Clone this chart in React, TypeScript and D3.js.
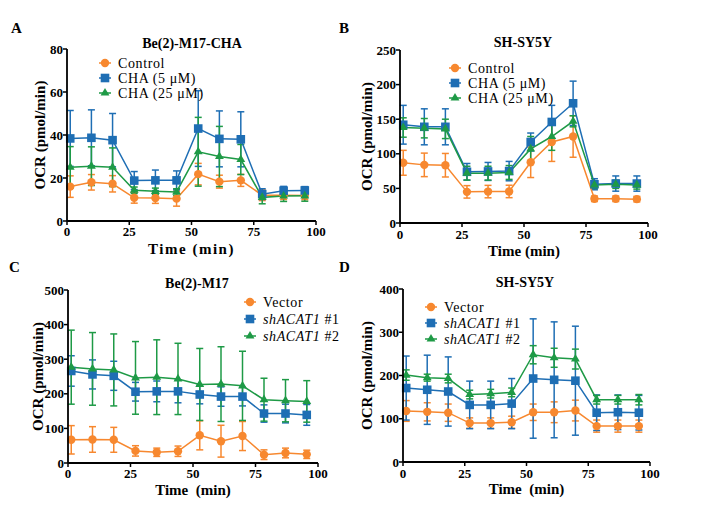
import React from "react";
import * as d3 from "d3";

const times = [1.3, 9.8, 18.3, 27, 35.5, 44, 52.7, 61.2, 69.8, 78.4, 87, 95.5];
const xTicks = [0, 25, 50, 75, 100];

// Panel A: Be(2)-M17-CHA
const aControl = [16, 18, 17.3, 10.8, 10.7, 10.4, 21.8, 18.3, 18.9, 12, 12, 11.9];
const aControlErr = [5, 3.6, 3.8, 2.5, 2.5, 3.5, 5, 3, 2.8, 2.5, 2, 2];
const aCha5 = [38.4, 38.7, 37.6, 18.8, 18.9, 18.9, 43, 38.2, 38, 12.5, 14.1, 14.2];
const aCha5Err = [13, 13, 12.4, 4.2, 4.8, 4.4, 17.6, 13, 12.8, 2.5, 2, 1.8];
const aCha25 = [25, 25.5, 25, 14.3, 13.8, 13.5, 32.2, 30, 28.6, 11, 11.6, 11.7];
const aCha25Err = [9.6, 9, 9, 1.5, 1.5, 1.5, 16, 14, 7, 3, 2.5, 2.5];

// Panel B: SH-SY5Y
const bControl = [87, 84, 83.5, 45, 45.4, 45.6, 87.7, 117, 125, 35, 35, 34.5];
const bControlErr = [18, 17, 17, 9, 9, 9, 22, 28, 30, 4, 4, 4];
const bCha5 = [142, 139, 139, 74, 74.5, 75, 117, 146, 173, 56, 57, 57];
const bCha5Err = [28, 26, 26, 12, 13, 14, 13, 24, 32, 8, 11, 11];
const bCha25 = [138, 137, 136, 72, 72, 73, 107, 125, 147, 55, 56, 55];
const bCha25Err = [14, 14, 14, 10, 10, 10, 18, 20, 8, 5, 6, 6];

// Panel C: Be(2)-M17
const cVector = [67, 68, 67, 35, 31, 34, 80, 63, 78, 24, 29, 25];
const cVectorErr = [41, 37, 36, 15, 12, 15, 42, 46, 42, 14, 14, 12];
const cSh1 = [266, 256, 252, 206, 207, 207, 198, 192, 192, 143, 143, 139];
const cSh1Err = [44, 42, 42, 27, 30, 33, 27, 28, 27, 25, 27, 30];
const cSh2 = [277, 272, 269, 246, 248, 243, 227, 228, 223, 183, 180, 178];
const cSh2Err = [107, 105, 104, 105, 108, 103, 104, 108, 100, 62, 61, 60];

// Panel D: SH-SY5Y
const dVector = [118, 116, 114, 90, 90, 92, 115, 115, 119, 83, 83, 83];
const dVectorErr = [24, 21, 20, 12, 12, 14, 19, 24, 24, 14, 14, 14];
const dSh1 = [171, 167, 163, 132, 132, 135, 193, 190, 188, 114, 115, 114];
const dSh1Err = [74, 80, 80, 55, 55, 58, 138, 134, 126, 41, 40, 40];
const dSh2 = [201, 195, 193, 156, 158, 161, 248, 241, 238, 144, 144, 144];
const dSh2Err = [12, 8, 10, 10, 10, 10, 21, 22, 23, 10, 10, 12];

const ORANGE = "#F7882F";
const BLUE = "#1E6EB4";
const GREEN = "#1E9A46";

type Series = { name: string; italic?: string; rest?: string; vals: number[]; err: number[]; color: string; shape: "circle" | "square" | "triangle" };

type PanelCfg = {
  letter: string; lx: number; ly: number;
  title: string; tx: number; ty: number;
  x0: number; x1: number; yTop: number; yBot: number;
  yMax: number; yTicks: number[];
  ylabX: number; xtickY: number; xlabY: number; xlab: string; xlabSpacing: number;
  legX: number; legY: number[];
  series: Series[];
};

const FONT = "'Liberation Serif', 'Times New Roman', serif";

function Marker({ shape, x, y, color }: { shape: string; x: number; y: number; color: string }) {
  if (shape === "circle") return <circle cx={x} cy={y} r={4.2} fill={color} />;
  if (shape === "square") return <rect x={x - 4.3} y={y - 4.3} width={8.6} height={8.6} fill={color} />;
  const s = d3.symbol().type(d3.symbolTriangle).size(34)();
  return <path d={s || ""} transform={`translate(${x},${y})`} fill={color} />;
}

function Panel({ c }: { c: PanelCfg }) {
  const xs = d3.scaleLinear().domain([0, 100]).range([c.x0, c.x1]);
  const ys = d3.scaleLinear().domain([0, c.yMax]).range([c.yBot, c.yTop]);
  const line = d3.line<number>().x((_, i) => xs(times[i])).y((v) => ys(v));
  const cap = 3.5;
  return (
    <g>
      <text x={c.lx} y={c.ly} fontFamily={FONT} fontWeight="bold" fontSize={15}>{c.letter}</text>
      <text x={c.tx} y={c.ty} fontFamily={FONT} fontWeight="bold" fontSize={14} textAnchor="middle">{c.title}</text>
      {c.series.map((s, si) => (
        <g key={"e" + si} stroke={s.color} strokeWidth={1.5} fill="none">
          {s.vals.map((v, i) => {
            const x = xs(times[i]);
            const yt = ys(v + s.err[i]);
            const yb = ys(Math.max(0, v - s.err[i]));
            return (
              <g key={i}>
                <line x1={x} x2={x} y1={yt} y2={yb} />
                <line x1={x - cap} x2={x + cap} y1={yt} y2={yt} />
                <line x1={x - cap} x2={x + cap} y1={yb} y2={yb} />
              </g>
            );
          })}
        </g>
      ))}
      {c.series.map((s, si) => (
        <path key={"l" + si} d={line(s.vals) || ""} stroke={s.color} strokeWidth={1.5} fill="none" />
      ))}
      {c.series.map((s, si) => (
        <g key={"m" + si}>
          {s.vals.map((v, i) => (
            <Marker key={i} shape={s.shape} x={xs(times[i])} y={ys(v)} color={s.color} />
          ))}
        </g>
      ))}
      <line x1={c.x0} x2={c.x0} y1={c.yTop} y2={c.yBot} stroke="#000" strokeWidth={1.8} />
      <line x1={c.x0} x2={c.x1} y1={c.yBot} y2={c.yBot} stroke="#000" strokeWidth={1.8} />
      {c.yTicks.map((t) => (
        <g key={"yt" + t}>
          <line x1={c.x0 - 4} x2={c.x0} y1={ys(t)} y2={ys(t)} stroke="#000" strokeWidth={1.5} />
          <text x={c.x0 - 4} y={ys(t) + 4.5} textAnchor="end" fontFamily={FONT} fontWeight="bold" fontSize={13}>{t}</text>
        </g>
      ))}
      {xTicks.map((t) => (
        <g key={"xt" + t}>
          <line x1={xs(t)} x2={xs(t)} y1={c.yBot} y2={c.yBot + 4} stroke="#000" strokeWidth={1.5} />
          <text x={xs(t)} y={c.xtickY} textAnchor="middle" fontFamily={FONT} fontWeight="bold" fontSize={13}>{t}</text>
        </g>
      ))}
      <text x={(c.x0 + c.x1) / 2} y={c.xlabY} textAnchor="middle" fontFamily={FONT} fontWeight="bold" fontSize={15} letterSpacing={c.xlabSpacing} style={{ whiteSpace: "pre" }}>{c.xlab}</text>
      <text transform={`translate(${c.ylabX},${(c.yTop + c.yBot) / 2}) rotate(-90)`} textAnchor="middle" fontFamily={FONT} fontWeight="bold" fontSize={15}>OCR (pmol/min)</text>
      {c.series.map((s, si) => (
        <g key={"lg" + si}>
          <line x1={c.legX - 6} x2={c.legX + 6} y1={c.legY[si]} y2={c.legY[si]} stroke={s.color} strokeWidth={1.5} />
          <Marker shape={s.shape} x={c.legX} y={c.legY[si]} color={s.color} />
          <text x={c.legX + 13} y={c.legY[si] + 4.5} fontFamily={FONT} fontSize={14} letterSpacing={0.6}>
            {s.italic ? (
              <>
                <tspan fontStyle="italic">{s.italic}</tspan>
                <tspan style={{ whiteSpace: "pre" }}>{s.rest}</tspan>
              </>
            ) : s.name}
          </text>
        </g>
      ))}
    </g>
  );
}

const panels: PanelCfg[] = [
  {
    letter: "A", lx: 11, ly: 33, title: "Be(2)-M17-CHA", tx: 192, ty: 48,
    x0: 67, x1: 316, yTop: 49, yBot: 221, yMax: 80, yTicks: [0, 20, 40, 60, 80],
    ylabX: 45, xtickY: 236, xlabY: 254, xlab: "Time (min)", xlabSpacing: 1.5,
    legX: 105, legY: [63, 78, 93],
    series: [
      { name: "Control", vals: aControl, err: aControlErr, color: ORANGE, shape: "circle" },
      { name: "CHA (5 μM)", vals: aCha5, err: aCha5Err, color: BLUE, shape: "square" },
      { name: "CHA (25 μM)", vals: aCha25, err: aCha25Err, color: GREEN, shape: "triangle" },
    ],
  },
  {
    letter: "B", lx: 339, ly: 33, title: "SH-SY5Y", tx: 523, ty: 47,
    x0: 400, x1: 648, yTop: 50, yBot: 223, yMax: 250, yTicks: [0, 50, 100, 150, 200, 250],
    ylabX: 372, xtickY: 239, xlabY: 256, xlab: "Time (min)", xlabSpacing: 0,
    legX: 455, legY: [68, 83, 98],
    series: [
      { name: "Control", vals: bControl, err: bControlErr, color: ORANGE, shape: "circle" },
      { name: "CHA (5 μM)", vals: bCha5, err: bCha5Err, color: BLUE, shape: "square" },
      { name: "CHA (25 μM)", vals: bCha25, err: bCha25Err, color: GREEN, shape: "triangle" },
    ],
  },
  {
    letter: "C", lx: 9, ly: 272, title: "Be(2)-M17", tx: 197, ty: 288,
    x0: 68, x1: 318, yTop: 290, yBot: 463, yMax: 500, yTicks: [0, 100, 200, 300, 400, 500],
    ylabX: 43, xtickY: 478, xlabY: 495, xlab: "Time  (min)", xlabSpacing: 0,
    legX: 250, legY: [302, 319, 336],
    series: [
      { name: "Vector", vals: cVector, err: cVectorErr, color: ORANGE, shape: "circle" },
      { name: "shACAT1 #1", italic: "shACAT1", rest: " #1", vals: cSh1, err: cSh1Err, color: BLUE, shape: "square" },
      { name: "shACAT1 #2", italic: "shACAT1", rest: " #2", vals: cSh2, err: cSh2Err, color: GREEN, shape: "triangle" },
    ],
  },
  {
    letter: "D", lx: 339, ly: 272, title: "SH-SY5Y", tx: 525, ty: 287,
    x0: 403, x1: 650, yTop: 289, yBot: 462, yMax: 400, yTicks: [0, 100, 200, 300, 400],
    ylabX: 372, xtickY: 478, xlabY: 494, xlab: "Time  (min)", xlabSpacing: 0,
    legX: 431, legY: [307, 323, 339],
    series: [
      { name: "Vector", vals: dVector, err: dVectorErr, color: ORANGE, shape: "circle" },
      { name: "shACAT1 #1", italic: "shACAT1", rest: " #1", vals: dSh1, err: dSh1Err, color: BLUE, shape: "square" },
      { name: "shACAT1 #2", italic: "shACAT1", rest: " #2", vals: dSh2, err: dSh2Err, color: GREEN, shape: "triangle" },
    ],
  },
];

export default function App() {
  return (
    <svg width={709} height={508} style={{ position: "absolute", left: 0, top: 0, background: "#fff" }}>
      <rect x={0} y={0} width={709} height={508} fill="#fff" />
      {panels.map((p, i) => (
        <Panel key={i} c={p} />
      ))}
    </svg>
  );
}
